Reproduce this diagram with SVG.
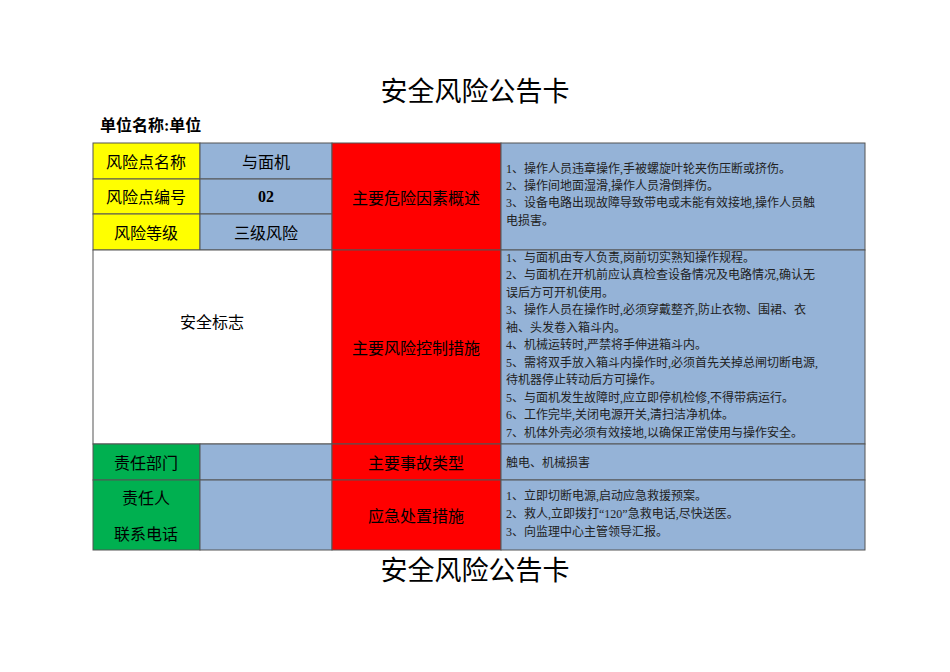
<svg xmlns="http://www.w3.org/2000/svg" width="950" height="672" viewBox="0 0 950 672">
<style>
.c{stroke:#555;stroke-width:1}
.t{font-family:"Liberation Serif","Noto Sans CJK SC",serif;font-size:12px;fill:#222}
.h{font-family:"Noto Sans CJK SC",sans-serif;font-size:16px;text-anchor:middle;dominant-baseline:central;fill:#000}
.title{font-family:"Liberation Serif","Noto Sans CJK SC",serif;font-size:27px;text-anchor:middle;fill:#000}
</style>
<rect width="950" height="672" fill="#fff"/>
<text class="title" x="475" y="101">安全风险公告卡</text>
<text x="100" y="131" style="font-family:'Liberation Serif','Noto Sans CJK SC',serif;font-size:16px;font-weight:bold">单位名称:单位</text>
<g id="table">
<rect class="c" x="93" y="143" width="107" height="36" fill="#ffff00"/>
<rect class="c" x="93" y="179" width="107" height="35" fill="#ffff00"/>
<rect class="c" x="93" y="214" width="107" height="36" fill="#ffff00"/>
<rect class="c" x="200" y="143" width="132" height="36" fill="#95b3d7"/>
<rect class="c" x="200" y="179" width="132" height="35" fill="#95b3d7"/>
<rect class="c" x="200" y="214" width="132" height="36" fill="#95b3d7"/>
<rect class="c" x="332" y="143" width="169" height="107" fill="#ff0000"/>
<rect class="c" x="501" y="143" width="364" height="107" fill="#95b3d7"/>
<rect class="c" x="93" y="250" width="239" height="194" fill="#fff"/>
<rect class="c" x="332" y="250" width="169" height="194" fill="#ff0000"/>
<rect class="c" x="501" y="250" width="364" height="194" fill="#95b3d7"/>
<rect class="c" x="93" y="444" width="107" height="36" fill="#00b050"/>
<rect class="c" x="200" y="444" width="132" height="36" fill="#95b3d7"/>
<rect class="c" x="332" y="444" width="169" height="36" fill="#ff0000"/>
<rect class="c" x="501" y="444" width="364" height="36" fill="#95b3d7"/>
<rect class="c" x="93" y="480" width="107" height="70" fill="#00b050"/>
<rect class="c" x="200" y="480" width="132" height="70" fill="#95b3d7"/>
<rect class="c" x="332" y="480" width="169" height="70" fill="#ff0000"/>
<rect class="c" x="501" y="480" width="364" height="70" fill="#95b3d7"/>
</g>
<g id="labels">
<text class="h" x="146" y="161">风险点名称</text>
<text class="h" x="146" y="196">风险点编号</text>
<text class="h" x="146" y="232">风险等级</text>
<text class="h" x="266" y="161">与面机</text>
<text class="h" x="266" y="196" style="font-family:'Liberation Serif',serif;font-weight:bold">02</text>
<text class="h" x="266" y="232">三级风险</text>
<text class="h" x="416" y="197">主要危险因素概述</text>
<text class="h" x="212" y="321">安全标志</text>
<text class="h" x="416" y="347">主要风险控制措施</text>
<text class="h" x="146" y="462">责任部门</text>
<text class="h" x="416" y="462">主要事故类型</text>
<text class="h" x="146" y="497">责任人</text>
<text class="h" x="146" y="533">联系电话</text>
<text class="h" x="416" y="515">应急处置措施</text>
</g>
<g id="content">
<text class="t" x="506" y="173">1、操作人员违章操作,手被螺旋叶轮夹伤压断或挤伤。</text>
<text class="t" x="506" y="190">2、操作间地面湿滑,操作人员滑倒摔伤。</text>
<text class="t" x="506" y="207">3、设备电路出现故障导致带电或未能有效接地,操作人员触</text>
<text class="t" x="506" y="225">电损害。</text>
<text class="t" x="506" y="262">1、与面机由专人负责,岗前切实熟知操作规程。</text>
<text class="t" x="506" y="279">2、与面机在开机前应认真检查设备情况及电路情况,确认无</text>
<text class="t" x="506" y="297">误后方可开机使用。</text>
<text class="t" x="506" y="314">3、操作人员在操作时,必须穿戴整齐,防止衣物、围裙、衣</text>
<text class="t" x="506" y="332">袖、头发卷入箱斗内。</text>
<text class="t" x="506" y="349">4、机械运转时,严禁将手伸进箱斗内。</text>
<text class="t" x="506" y="367">5、需将双手放入箱斗内操作时,必须首先关掉总闸切断电源,</text>
<text class="t" x="506" y="384">待机器停止转动后方可操作。</text>
<text class="t" x="506" y="402">5、与面机发生故障时,应立即停机检修,不得带病运行。</text>
<text class="t" x="506" y="419">6、工作完毕,关闭电源开关,清扫洁净机体。</text>
<text class="t" x="506" y="437">7、机体外壳必须有效接地,以确保正常使用与操作安全。</text>
<text class="t" x="506" y="467">触电、机械损害</text>
<text class="t" x="506" y="500">1、立即切断电源,启动应急救援预案。</text>
<text class="t" x="506" y="518">2、救人,立即拨打“120”急救电话,尽快送医。</text>
<text class="t" x="506" y="536">3、向监理中心主管领导汇报。</text>
</g>
<text class="title" x="475" y="580">安全风险公告卡</text>
</svg>
